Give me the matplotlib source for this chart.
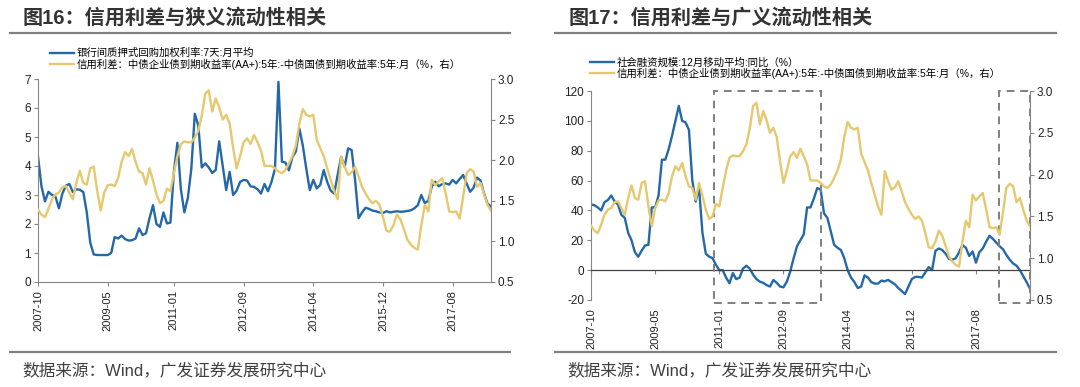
import numpy as np
import matplotlib
matplotlib.use('Agg')
import matplotlib.pyplot as plt
from matplotlib.patches import Rectangle
from matplotlib.lines import Line2D

plt.rcParams['font.family'] = ['Liberation Sans', 'Noto Sans CJK SC', 'DejaVu Sans']
plt.rcParams['axes.unicode_minus'] = False

# ---------------- 数据 ----------------
tick_labels = ['2007-10', '2009-05', '2011-01', '2012-09', '2014-04', '2015-12', '2017-08']
left_tick_pos = [0, 20, 39, 59, 79, 99, 119]
right_tick_pos = [0, 19, 38, 57, 76, 95, 114]

# 信用利差 (%, 右轴)
spread = [1.39, 1.33, 1.30, 1.40, 1.52, 1.58, 1.60, 1.67, 1.68, 1.60,
          1.52, 1.72, 1.87, 1.72, 1.70, 1.90, 1.92, 1.62, 1.38, 1.60,
          1.69, 1.70, 1.68, 1.78, 1.98, 2.10, 2.05, 2.14, 1.98, 1.86,
          1.84, 1.70, 1.90, 1.75, 1.58, 1.47, 1.50, 1.65, 1.62, 1.84,
          2.05, 2.20, 2.23, 2.22, 2.22, 2.28, 2.36, 2.55, 2.82, 2.86,
          2.60, 2.76, 2.65, 2.50, 2.56, 2.45, 2.15, 1.90, 2.05, 2.22,
          2.27, 2.20, 2.31, 2.22, 2.12, 1.93, 1.93, 1.93, 1.90, 1.86,
          1.84, 1.88, 1.96, 2.05, 2.18, 2.45, 2.63, 2.56, 2.54, 2.56,
          2.25, 2.15, 2.05, 1.90, 1.76, 1.62, 1.52, 2.04, 1.92, 1.82,
          1.85, 1.92, 1.80, 1.67, 1.59, 1.52, 1.47, 1.50, 1.45, 1.30,
          1.13, 1.12, 1.20, 1.33, 1.27, 1.15, 1.02, 0.96, 0.92, 0.90,
          1.20, 1.45, 1.37, 1.76, 1.69, 1.74, 1.78, 1.59, 1.37, 1.36,
          1.37, 1.28, 1.55, 1.84, 1.89, 1.86, 1.67, 1.72, 1.58, 1.45, 1.38]

# 银行间质押式回购加权利率:7天:月平均
repo7d = [4.32, 3.30, 2.78, 3.11, 3.00, 2.95, 2.54, 3.05, 3.32, 3.38,
          3.10, 3.20, 3.18, 3.10, 2.40, 1.35, 0.95, 0.93, 0.93, 0.93,
          0.93, 1.00, 1.55, 1.50, 1.60, 1.48, 1.43, 1.44, 1.50, 1.85,
          1.62, 1.68, 2.20, 2.65, 2.00, 1.90, 2.40, 2.02, 2.05, 3.80,
          4.80, 3.20, 2.40, 2.90, 3.90, 5.80, 5.40, 3.95, 4.09, 3.95,
          3.76, 3.86, 4.85, 4.00, 3.17, 3.80, 3.00, 3.15, 3.45, 3.52,
          3.50, 3.30, 3.28, 3.20, 3.05, 3.38, 3.13, 3.45, 3.90, 6.90,
          4.15, 4.12, 3.85, 4.30, 4.50, 5.30, 4.70, 3.90, 3.17, 3.52,
          3.23, 3.35, 3.86, 3.45, 3.15, 3.05, 3.70, 4.32, 3.98, 4.61,
          4.55, 3.52, 2.20, 2.40, 2.56, 2.52, 2.46, 2.44, 2.40, 2.38,
          2.44, 2.40, 2.42, 2.44, 2.42, 2.43, 2.45, 2.47, 2.54, 2.65,
          3.00, 2.72, 2.80, 3.29, 3.46, 3.30, 3.38, 3.40, 3.36, 3.52,
          3.40, 3.55, 3.69, 3.40, 3.11, 3.25, 3.60, 3.50, 3.05, 2.70, 2.60]

# 社会融资规模:12月移动平均:同比 (%)
tsf_yoy = [44, 43.5, 42, 40, 45.5, 47, 50, 46, 44, 37,
           35, 25, 20, 12, 9, 13, 16.5, 17, 42, 42,
           50, 74, 74, 81, 90, 100, 110, 100, 99, 94,
           60, 46, 55, 25, 11, 9, 8, 3.5, 0, 0,
           -5, -8.8, -2, -6, -5, 1, 3, 1, -3, -6,
           -7.7, -8.5, -10, -11, -6.6, -8.5, -11, -11.5, -7.7, -1,
           8, 16, 20, 24, 42, 42, 48, 55, 54, 38,
           35, 26, 17, 15, 13.5, 8, 0, -5, -8, -12,
           -11, -3.5, -5, -8, -9, -9, -7, -7.5, -6.5, -8,
           -9.5, -12, -14, -16, -11, -6, -4.5, -4.5, -5, -1.5,
           2, 0, 13, 14.5, 13.5, 11, 7.5, 7, 8, 12,
           16.8, 15, 9.5, 12.5, 5, 12, 14.5, 19, 23, 21,
           18.5, 16, 14, 10.2, 7, 4.5, 3, 0, -4, -8, -12.5]

label_repo = '银行间质押式回购加权利率:7天:月平均'
label_tsf = '社会融资规模:12月移动平均:同比（%）'
label_spread = '信用利差：中债企业债到期收益率(AA+):5年:-中债国债到期收益率:5年:月（%，右）'

blue = '#2568a8'
gold = '#e6c86e'
axis_c = '#868686'
text_c = '#333333'
x = np.arange(len(spread))

W, H = 1080, 387
fig = plt.figure(figsize=(W / 100, H / 100), dpi=100)


def tidy(ax, axr, pad):
    ax.spines['top'].set_visible(False)
    ax.spines['right'].set_visible(False)
    for s in ['top', 'left', 'bottom']:
        axr.spines[s].set_visible(False)
    for s in ['left', 'bottom']:
        ax.spines[s].set_color(axis_c)
    axr.spines['right'].set_color(axis_c)
    ax.tick_params(axis='y', direction='out', length=3, color=axis_c, labelsize=8.5, labelcolor='#222222', pad=2)
    axr.tick_params(axis='y', direction='out', length=3, color=axis_c, labelsize=8.5, labelcolor='#222222', pad=2)
    ax.tick_params(axis='x', direction='out', length=3, color=axis_c, labelsize=8, labelcolor='#222222',
                   pad=pad, labelrotation=90)
    axr.set_ylim(0.5, 3.0)
    axr.set_yticks([0.5, 1.0, 1.5, 2.0, 2.5, 3.0])
    axr.set_yticklabels([f'{v:.1f}' for v in [0.5, 1.0, 1.5, 2.0, 2.5, 3.0]])


# -------------------------- 图16 --------------------------
ax1 = fig.add_axes([38 / W, 1 - 282 / H, 453 / W, 203 / H])
l1, = ax1.plot(x, repo7d, color=blue, lw=1.7)
ax1r = ax1.twinx()
l2, = ax1r.plot(x, spread, color=gold, lw=1.7)
ax1.set_xlim(0, len(x) - 1)
ax1.set_ylim(0, 7)
ax1.set_yticks(range(0, 8))
ax1.set_xticks(left_tick_pos)
ax1.set_xticklabels(tick_labels)
tidy(ax1, ax1r, 2.8)

fig.legend([l1, l2], [label_repo, label_spread], loc='upper left',
           bbox_to_anchor=(50 / W, 1 - 48 / H), frameon=False, fontsize=7.5,
           borderpad=0, borderaxespad=0, handlelength=2.3, handletextpad=0.3,
           labelspacing=0.05)

# -------------------------- 图17 --------------------------
ax2 = fig.add_axes([591 / W, 1 - 300 / H, 439 / W, 209 / H])
l3, = ax2.plot(x, tsf_yoy, color=blue, lw=1.7)
ax2r = ax2.twinx()
l4, = ax2r.plot(x, spread, color=gold, lw=1.7)
ax2.set_xlim(0, len(x) - 1)
ax2.set_ylim(-20, 120)
ax2.set_yticks(range(-20, 121, 20))
ax2.spines['bottom'].set_position(('data', 0))
ax2.set_xticks(right_tick_pos)
ax2.set_xticklabels(tick_labels)
tidy(ax2, ax2r, 24.5)
ax2.spines['bottom'].set_color('#404040')
ax2.spines['bottom'].set_linewidth(0.9)

# 虚线框
for x0, x1 in [(36.4, 68.1), (120.8, 130)]:
    ax2.add_patch(Rectangle((x0, -22.3), x1 - x0, 142.3, fill=False,
                            edgecolor='#7f7f7f', lw=1.4, ls=(0, (4, 3)),
                            clip_on=False, zorder=5))

fig.legend([l3, l4], [label_tsf, label_spread], loc='upper left',
           bbox_to_anchor=(590 / W, 1 - 57 / H), frameon=False, fontsize=7.5,
           borderpad=0, borderaxespad=0, handlelength=2.3, handletextpad=0.3,
           labelspacing=0.05)

# -------------------------- 标题、分隔线、来源 --------------------------
for x0, title in [(23, '图16：信用利差与狭义流动性相关'), (569, '图17：信用利差与广义流动性相关')]:
    fig.text(x0 / W, 1 - 18 / H, title, fontsize=14.5, fontweight='bold',
             color=text_c, va='center', ha='left')
for x0, x1 in [(10, 510), (555, 1056)]:
    for yy in [33, 352]:
        fig.add_artist(Line2D([x0 / W, x1 / W], [1 - yy / H, 1 - yy / H],
                              color='#808080', lw=1.6))
for x0 in [22, 567]:
    fig.text(x0 / W, 1 - 370 / H, '数据来源：Wind，广发证券发展研究中心',
             fontsize=12, color='#404040', va='center', ha='left')

fig.savefig('out.png', dpi=100)
